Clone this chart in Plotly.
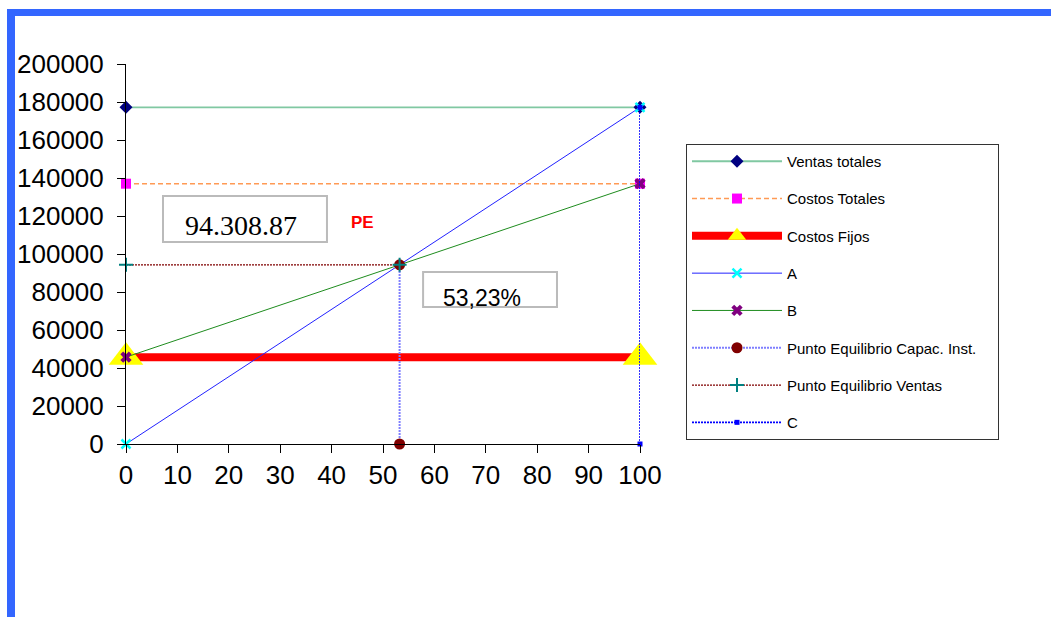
import plotly.graph_objects as go

# Break-even analysis values
capacidad = [0, 100]                 # % of installed capacity
ventas_totales = 177172.0
costos_totales = 137000.0
costos_fijos = 45722.0
pe_ventas = 94308.87
pe_capacidad = 53.23

W, H = 1051, 617
L, R, T, B = 126, 411, 64, 173

fig = go.Figure()

series = [
    dict(name="Ventas totales", x=capacidad, y=[ventas_totales, ventas_totales],
         line=dict(color="#80C8A2", width=1.8),
         marker=dict(symbol="diamond", size=10, color="#000080")),
    dict(name="Costos Totales", x=capacidad, y=[costos_totales, costos_totales],
         line=dict(color="#FF9A55", width=1.5, dash="5px,3px"),
         marker=dict(symbol="square", size=10, color="#FF00FF")),
    dict(name="Costos Fijos", x=capacidad, y=[costos_fijos, costos_fijos],
         line=dict(color="#FF0000", width=8),
         marker=dict(symbol="triangle-up", size=30, color="#FFFF00")),
    dict(name="A", x=capacidad, y=[0, ventas_totales],
         line=dict(color="#2222FF", width=1),
         marker=dict(symbol="x-thin", size=9, color="#00FFFF",
                     line=dict(color="#00FFFF", width=2.5))),
    dict(name="B", x=capacidad, y=[costos_fijos, costos_totales],
         line=dict(color="#1E8C1E", width=1),
         marker=dict(symbol="x", size=10, color="#800080")),
    # trailing no-break spaces widen the legend box a little
    dict(name="Punto Equilibrio Capac. Inst.\u00a0\u00a0\u00a0\u00a0",
         x=[pe_capacidad, pe_capacidad], y=[0, pe_ventas],
         line=dict(color="#7F7FFF", width=2, dash="2px,1px"),
         marker=dict(symbol="circle", size=11, color="#800000")),
    dict(name="Punto Equilibrio Ventas", x=[0, pe_capacidad], y=[pe_ventas, pe_ventas],
         line=dict(color="#800000", width=1.2, dash="2px,1px"),
         marker=dict(symbol="cross-thin", size=10, color="#008080",
                     line=dict(color="#008080", width=2))),
    dict(name="C", x=[100, 100], y=[0, ventas_totales],
         line=dict(color="#0000FF", width=1.6, dash="2px,1px"),
         marker=dict(symbol="square", size=5, color="#0000FF")),
]

for i, s in enumerate(series):
    fig.add_trace(go.Scatter(mode="lines+markers", cliponaxis=False,
                             legendgroup=f"g{i}", **s))

# Text boxes
fig.add_shape(type="rect", xref="x", yref="y", x0=7.2, x1=39.1, y0=106316, y1=130526,
              line=dict(color="#BBBBBB", width=2), fillcolor="rgba(0,0,0,0)")
fig.add_shape(type="rect", xref="x", yref="y", x0=57.8, x1=83.85, y0=72105, y1=90526,
              line=dict(color="#BBBBBB", width=2), fillcolor="rgba(0,0,0,0)")

fig.add_annotation(x=22.4, y=(444 - 225) * 526.3, xref="x", yref="y",
                   text="94.308.87", showarrow=False,
                   font=dict(family="Liberation Serif", size=28, color="#000000"))
fig.add_annotation(x=69.3, y=(444 - 298) * 526.3, xref="x", yref="y",
                   text="53,23%", showarrow=False,
                   font=dict(family="Liberation Sans", size=23, color="#000000"))
fig.add_annotation(x=(362 - 126) / 5.14, y=(444 - 222) * 526.3, xref="x", yref="y",
                   text="<b>PE</b>", showarrow=False,
                   font=dict(family="Liberation Sans", size=17, color="#FF0000"))

# Blue frame along the top and left edges
pw, ph = W - L - R, H - T - B
def px(x): return (x - L) / pw
def py(y): return (H - B - y) / ph
fig.add_shape(type="rect", xref="paper", yref="paper", layer="above",
              x0=px(7), x1=px(1060), y0=py(16), y1=py(9),
              line=dict(width=0), fillcolor="#3366FF")
fig.add_shape(type="rect", xref="paper", yref="paper", layer="above",
              x0=px(7), x1=px(15), y0=py(630), y1=py(9),
              line=dict(width=0), fillcolor="#3366FF")

axis_font = dict(family="Liberation Sans", size=26, color="#000000")
fig.update_xaxes(range=[0, 100], tickvals=list(range(0, 101, 10)),
                 showgrid=False, zeroline=False, showline=True, linecolor="#000000",
                 linewidth=1, ticks="outside", ticklen=8, tickcolor="#000000",
                 tickfont=axis_font)
fig.update_yaxes(range=[0, 200000], tickvals=list(range(0, 200001, 20000)),
                 tickformat="d", showgrid=False, zeroline=False, showline=True,
                 linecolor="#000000", linewidth=1, ticks="outside", ticklen=8,
                 tickcolor="#000000", tickfont=axis_font, ticklabelstandoff=8)

fig.update_layout(
    width=W, height=H,
    margin=dict(l=L, r=R, t=T, b=B),
    paper_bgcolor="#FFFFFF", plot_bgcolor="#FFFFFF",
    showlegend=True,
    legend=dict(x=px(686), y=py(144), xanchor="left", yanchor="top",
                bordercolor="#333333", borderwidth=1, bgcolor="#FFFFFF",
                font=dict(family="Liberation Sans", size=15, color="#000000"),
                traceorder="grouped", tracegroupgap=14.8, itemwidth=90),
)

fig.write_html("out.html")
